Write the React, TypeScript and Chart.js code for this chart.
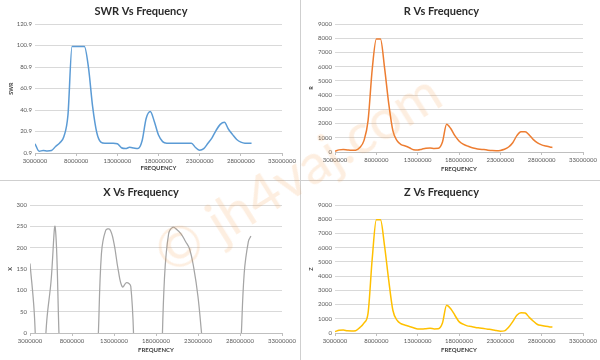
import React, { useEffect, useRef } from "react";
import { Chart, registerables } from "chart.js";

Chart.register(...registerables);

// Frequency sweep points (MHz)
const FREQ_MHZ = [
  3.0, 3.5, 4.0, 4.5, 5.0, 5.5, 6.0, 6.5, 7.0, 7.5, 8.0, 8.5, 9.0, 9.5, 10.0, 10.5, 11.0, 11.5,
  12.0, 12.5, 13.0, 13.5, 14.0, 14.5, 15.0, 15.5, 16.0, 16.5, 17.0, 17.5, 18.0, 18.5, 19.0, 19.5,
  20.0, 20.5, 21.0, 21.5, 22.0, 22.5, 23.0, 23.5, 24.0, 24.5, 25.0, 25.5, 26.0, 26.5, 27.0, 27.5,
  28.0, 28.5, 29.0, 29.3,
];

const SWR = [
  9.5, 2.5, 3.3, 2.8, 3.2, 7, 10.3, 16, 36, 99.9, 99.9, 99.9, 99.9, 80, 44, 20, 11, 10,
  10, 10, 9.5, 5.8, 5.0, 6.2, 5.5, 5.0, 12, 33, 39.5, 30, 17.6, 11.5, 10, 10,
  10, 10, 10, 10, 10, 6, 3.5, 5, 9.9, 15, 22, 27.5, 29.5, 23, 18, 13.5,
  11, 10, 10, 10,
];

const R_OHM = [
  50, 150, 170, 140, 120, 130, 320, 800, 2200, 5800, 7950, 7950, 5900, 3400, 1500, 800, 520, 420,
  300, 160, 140, 200, 260, 280, 250, 260, 700, 1950, 1650, 1150, 780, 550, 430, 320,
  250, 200, 170, 130, 100, 90, 110, 190, 350, 650, 1150, 1420, 1430, 1200, 870, 640,
  500, 420, 350, 320,
];

const X_OHM = [
  163, 50, -150, -120, 30, 120, 248, -30, -250, -300, -300, -300, -300, -300, -250, -150, -60, 185,
  240, 243, 210, 148, 108, 118, 109, -80, -200, -250, -250, -250, -250, -150, 125, 232,
  248, 242, 232, 215, 197, 152, 85, -15, -100, -200, -250, -250, -250, -250, -200, -150,
  -60, 140, 215, 227,
];

const Z_OHM = [
  100, 190, 210, 150, 140, 160, 380, 700, 1400, 5200, 7970, 7970, 6100, 3700, 1600, 900, 650, 550,
  460, 370, 280, 280, 300, 330, 290, 300, 700, 1950, 1700, 1250, 800, 620, 500, 450,
  390, 350, 310, 270, 230, 180, 130, 150, 400, 800, 1250, 1430, 1400, 1100, 830, 600,
  530, 470, 430, 420,
];

// Axis settings: [min, max, step]
const FREQ_AXIS = [3000000, 33000000, 5000000];
const SWR_AXIS = [0.9, 120.9, 20];
const R_AXIS = [0, 9000, 1000];
const X_AXIS = [0, 300, 50];
const Z_AXIS = [0, 9000, 1000];

const FONT = "Lato, 'Open Sans', sans-serif";

type PanelProps = {
  title: string;
  yTitle: string;
  values: number[];
  color: string;
  axis: number[];
  decimals: number;
  left: number;
  top: number;
  yWidth: number;
  xHeight: number;
  rightPad: number;
  titlePadTop: number;
  titlePadBottom: number;
  yTitlePad: number;
  xTitlePad: number;
  lineWidth: number;
  monotone: boolean;
};

function Panel(p: PanelProps) {
  const ref = useRef<HTMLCanvasElement>(null);
  useEffect(() => {
    const points = FREQ_MHZ.map((f, i) => ({ x: Math.round(f * 1e6), y: p.values[i] }));
    const chart = new Chart(ref.current as HTMLCanvasElement, {
      type: "line",
      data: {
        datasets: [
          {
            data: points,
            borderColor: p.color,
            backgroundColor: p.color,
            borderWidth: p.lineWidth,
            pointRadius: 0,
            fill: false,
            tension: 0.4,
            cubicInterpolationMode: p.monotone ? "monotone" : "default",
          } as any,
        ],
      },
      options: {
        responsive: false,
        animation: false,
        events: [],
        layout: { padding: { left: 0, right: p.rightPad, top: 0, bottom: 0 } },
        plugins: {
          legend: { display: false },
          tooltip: { enabled: false },
          title: {
            display: true,
            text: p.title,
            color: "#2b2b2b",
            font: { family: FONT, size: 11, weight: "bold" },
            padding: { top: p.titlePadTop, bottom: p.titlePadBottom },
          },
        },
        scales: {
          x: {
            type: "linear",
            min: FREQ_AXIS[0],
            max: FREQ_AXIS[1],
            afterFit: (s: any) => {
              s.height = p.xHeight;
            },
            ticks: {
              stepSize: FREQ_AXIS[2],
              autoSkip: false,
              maxRotation: 0,
              minRotation: 0,
              padding: 1,
              color: "#595959",
              font: { family: FONT, size: 6 },
              callback: (v: any) => String(Math.round(Number(v))),
            },
            grid: {
              drawOnChartArea: false,
              drawTicks: true,
              tickLength: 3,
              color: "#bfbfbf",
            },
            border: { display: true, color: "#bfbfbf" },
            title: {
              display: true,
              text: "FREQUENCY",
              color: "#404040",
              font: { family: FONT, size: 6, weight: "bold" },
              padding: { top: 0, bottom: p.xTitlePad },
            },
          },
          y: {
            type: "linear",
            min: p.axis[0],
            max: p.axis[1],
            afterFit: (s: any) => {
              s.width = p.yWidth;
            },
            ticks: {
              stepSize: p.axis[2],
              padding: 3,
              color: "#595959",
              font: { family: FONT, size: 6 },
              callback: (v: any) => Number(v).toFixed(p.decimals),
            },
            grid: { color: "#d9d9d9", drawTicks: false },
            border: { display: false },
            title: {
              display: true,
              text: p.yTitle,
              color: "#404040",
              font: { family: FONT, size: 5.5, weight: "bold" },
              padding: { top: p.yTitlePad, bottom: 0 },
            },
          },
        },
      },
    });
    return () => chart.destroy();
  }, []);
  return (
    <canvas
      ref={ref}
      width={300}
      height={180}
      style={{ position: "absolute", left: p.left, top: p.top, width: 300, height: 180 }}
    />
  );
}

export default function App() {
  return (
    <div
      style={{
        position: "absolute",
        left: 0,
        top: 0,
        width: 600,
        height: 360,
        background: "#ffffff",
        overflow: "hidden",
      }}
    >
      <Panel
        title="SWR Vs Frequency" yTitle="SWR" values={SWR} color="#5B9BD5" axis={SWR_AXIS}
        decimals={1} left={0} top={0} yWidth={35} xHeight={27} rightPad={18}
        titlePadTop={4.4} titlePadBottom={6.4} yTitlePad={7.8} xTitlePad={8.4}
        lineWidth={1.5} monotone={true}
      />
      <Panel
        title="R Vs Frequency" yTitle="R" values={R_OHM} color="#ED7D31" axis={R_AXIS}
        decimals={0} left={300} top={0} yWidth={35} xHeight={28} rightPad={17}
        titlePadTop={4.4} titlePadBottom={6.4} yTitlePad={7.8} xTitlePad={7.4}
        lineWidth={1.5} monotone={true}
      />
      <Panel
        title="X Vs Frequency" yTitle="X" values={X_OHM} color="#A5A5A5" axis={X_AXIS}
        decimals={0} left={0} top={180} yWidth={30} xHeight={27} rightPad={18}
        titlePadTop={5.4} titlePadBottom={6.4} yTitlePad={6.8} xTitlePad={6.4}
        lineWidth={1.25} monotone={false}
      />
      <Panel
        title="Z Vs Frequency" yTitle="Z" values={Z_OHM} color="#FFC000" axis={Z_AXIS}
        decimals={0} left={300} top={180} yWidth={35} xHeight={27} rightPad={17}
        titlePadTop={5.4} titlePadBottom={6.4} yTitlePad={8.4} xTitlePad={6.4}
        lineWidth={1.5} monotone={true}
      />
      <div style={{ position: "absolute", left: 300, top: 0, width: 1, height: 360, background: "#cfcfcf" }} />
      <div style={{ position: "absolute", left: 0, top: 180, width: 600, height: 1, background: "#cfcfcf" }} />
      <div
        style={{
          position: "absolute",
          left: 297,
          top: 172,
          transform: "translate(-50%, -50%) rotate(-32deg)",
          whiteSpace: "nowrap",
          fontFamily: FONT,
          fontSize: 56,
          lineHeight: 1,
          color: "rgba(245,150,60,0.16)",
          pointerEvents: "none",
        }}
      >
        © jh4vaj.com
      </div>
    </div>
  );
}
